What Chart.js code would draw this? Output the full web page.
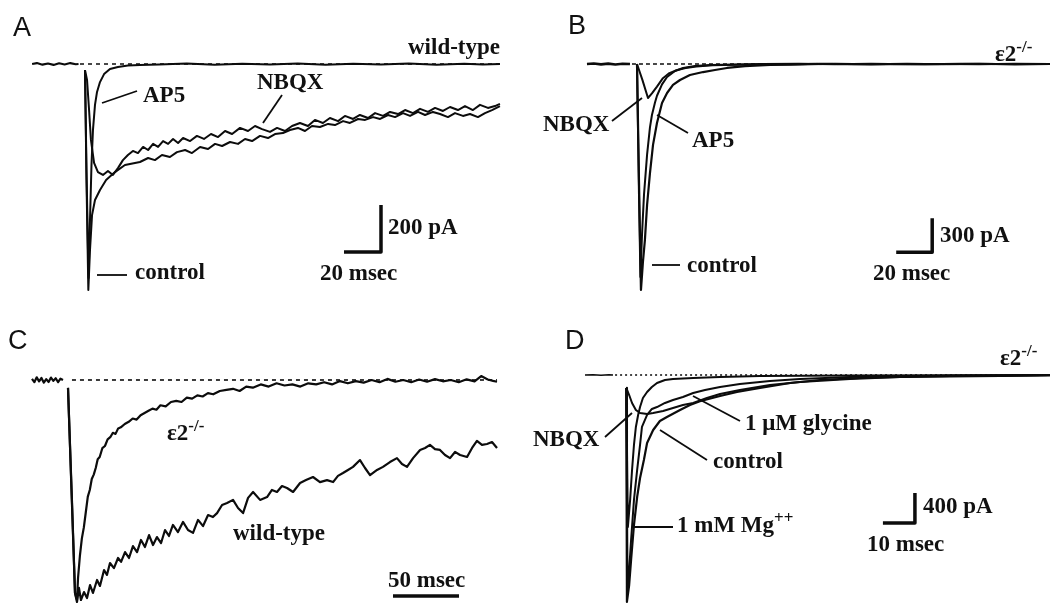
<!DOCTYPE html>
<html>
<head>
<meta charset="utf-8">
<script src="https://cdn.jsdelivr.net/npm/chart.js@4"></script>
<style>
  body { margin: 0; background: #fff; }
  #fig { position: relative; width: 1050px; height: 604px; background: #fff; overflow: hidden; }
  #fig canvas { position: absolute; }
  .lbl { position: absolute; white-space: nowrap; color: #111; font: bold 23px "Liberation Serif", "Times New Roman", serif; line-height: 23px; }
  .lbl.letter { font: 27px "Liberation Sans", Arial, sans-serif; line-height: 27px; }
  .lbl sup { font-size: 17px; vertical-align: 0; position: relative; top: -9px; }
</style>
</head>
<body>
<div id="fig">
  <canvas id="panelA" width="525" height="302" style="left:0;top:0"></canvas>
  <canvas id="panelB" width="525" height="302" style="left:525px;top:0"></canvas>
  <canvas id="panelC" width="525" height="302" style="left:0;top:302px"></canvas>
  <canvas id="panelD" width="525" height="302" style="left:525px;top:302px"></canvas>
</div>
<script>
// ---- data: [time (ms), current] pairs ----

// A: wild-type, current in pA
const aPre = [[-28.6,0],[-26,4],[-23,-3],[-20,2],[-17,-4],[-14,3],[-11,-2],[-8,4],[-5,-1],[-3.5,0]];
const aControl = [[0,-26],[0.8,-494],[1.8,-962],[2.7,-791],[3.8,-643],[5.4,-579],[8.1,-536],[11.4,-494],[16.2,-460],[21.6,-430],
  [29.7,-417],[34.1,-400],[37.8,-409],[41.6,-387],[45.9,-396],[49.7,-375],[54.1,-366],[57.8,-379],[62.2,-353],[66.5,-362],
  [70.3,-340],[74.1,-349],[78.4,-332],[82.7,-340],[86.5,-319],[90.3,-328],[94.6,-306],[98.9,-315],[102.7,-298],[107,-294],
  [110.8,-281],[115.1,-272],[118.9,-285],[122.7,-264],[127,-268],[131.4,-255],[135.1,-260],[139.5,-243],[143.2,-251],[147.6,-234],
  [151.4,-238],[155.7,-226],[159.5,-234],[163.8,-217],[167.6,-226],[171.9,-209],[175.7,-221],[180,-204],[183.8,-217],[188.1,-204],
  [191.9,-213],[196.2,-226],[200,-209],[204.3,-221],[208.1,-213],[212.4,-226],[216.2,-209],[220,-196],[224.3,-179]];
const aNbqx = [[0,-26],[1.1,-68],[2.2,-196],[3.2,-323],[4.9,-421],[7,-460],[9.7,-472],[12.4,-455],[15.1,-472],[17.8,-443],
  [20.5,-409],[23.2,-387],[25.9,-370],[28.6,-379],[31.4,-353],[34.1,-366],[36.8,-340],[39.5,-353],[42.2,-328],[44.9,-340],
  [47.6,-319],[50.3,-336],[53,-315],[56.8,-328],[60.5,-306],[64.3,-319],[68.1,-298],[71.9,-311],[75.7,-285],[79.5,-298],
  [83.8,-272],[88.1,-285],[91.9,-264],[95.7,-277],[100,-289],[103.8,-272],[108.1,-285],[111.9,-264],[116.2,-251],[120.5,-264],
  [124.3,-238],[128.6,-251],[132.4,-230],[136.8,-243],[140.5,-221],[144.9,-234],[148.6,-217],[153,-230],[156.8,-209],[161.1,-221],
  [164.9,-204],[169.2,-213],[173,-196],[177.3,-209],[181.1,-191],[185.4,-204],[189.2,-187],[193.5,-200],[197.3,-183],[201.6,-196],
  [205.4,-179],[209.7,-196],[213.5,-174],[217.8,-187],[221.6,-179],[224.3,-170]];
const aAp5 = [[0,-26],[0.8,-451],[1.9,-911],[2.7,-664],[3.5,-430],[4.3,-281],[5.4,-174],[6.5,-119],[8.1,-77],[10.3,-43],
  [13.5,-21],[17.8,-13],[23.2,-6],[29.7,-4],[40,-2],[55,2],[70,-3],[85,1],[100,-2],[115,2],[130,-3],[145,1],[160,-2],
  [175,2],[190,-3],[205,1],[215,-2],[224.3,0]];
const aBaseline = [[-2.7,0],[224.3,0]];
const aScaleBar = [[140,-800],[160,-800],[160,-600]]; // 20 ms, 200 pA

// B: epsilon2 -/-, current in pA
const bPre = [[-27.8,0],[-24,4],[-20,-3],[-16,3],[-12,-4],[-8,2],[-3.9,0]];
const bControl = [[0,0],[1.1,-1023],[2.2,-1993],[3.3,-1746],[4.4,-1552],[5.6,-1244],[7.2,-962],[8.9,-714],[11.1,-520],[13.9,-344],
  [16.7,-256],[20,-185],[23.9,-141],[29.4,-97],[36.7,-71],[43.3,-53],[50,-35],[60,-18],[73.9,-9],[90,-4],[110,2],[130,-3],
  [150,1],[170,-2],[190,2],[210,-3],[229.4,0]];
const bAp5 = [[0,0],[1.1,-1150],[1.9,-1880],[2.8,-1500],[3.9,-1150],[5.6,-800],[7.2,-560],[8.3,-450],[10,-340],[11.1,-280],
  [13.9,-180],[16.7,-115],[21.1,-62],[25.6,-35],[32.2,-18],[40.6,-9],[56,-4],[70,0],[90,2],[110,-2],[130,3],[150,-2],
  [170,1],[190,-3],[210,2],[229.4,-1]];
const bNbqx = [[0,0],[3,-140],[6.1,-300],[8.3,-260],[11.1,-200],[14.4,-125],[18,-80],[22,-55],[27,-35],[33,-22],[42,-12],
  [55,-6],[70,-2],[85,-4],[100,2],[120,-2],[140,1],[160,-3],[180,2],[200,-1],[229.4,0]];
const bBaseline = [[-2.8,0],[229.4,0]];
const bScaleBar = [[144,-1660],[164,-1660],[164,-1360]]; // 20 ms, 300 pA

// C: wild-type vs epsilon2 -/-, peak-normalised current
const cPre = [[-27.3,0.005],[-25.5,-0.01],[-23.7,0.012],[-21.9,-0.006],[-20.1,0.009],[-18.3,-0.012],[-16.5,0.004],
  [-14.7,-0.009],[-12.9,0.011],[-11.1,-0.004],[-9.3,0.008],[-7.5,-0.01],[-5.7,0.006],[-3.8,0]];
const cKnockout = [[0,-0.036],[3,-0.55],[5.3,-0.968],[6.8,-1],[7.6,-0.9],[9,-0.8],[10.5,-0.72],[12,-0.67],[13.5,-0.6],
  [15,-0.53],[16.5,-0.5],[18,-0.45],[19.5,-0.43],[21,-0.4],[22.5,-0.36],[24,-0.35],[26,-0.31],[28,-0.3],[30,-0.27],
  [32,-0.26],[34,-0.24],[36,-0.245],[38,-0.22],[40,-0.215],[43,-0.2],[46,-0.19],[49,-0.175],[52,-0.18],[55,-0.16],
  [58,-0.15],[61,-0.14],[64,-0.13],[67,-0.135],[70,-0.115],[74,-0.12],[78,-0.1],[82,-0.095],[86,-0.1],[90,-0.08],
  [94,-0.085],[98,-0.07],[102,-0.075],[106,-0.06],[110,-0.065],[115,-0.05],[120,-0.045],[125,-0.04],[130,-0.05],
  [135,-0.03],[140,-0.035],[146,-0.02],[152,-0.03],[158,-0.015],[164,-0.025],[170,-0.02],[176,-0.03],[182,-0.015],
  [188,-0.02],[194,-0.01],[200,-0.02],[206,-0.005],[212,-0.015],[218,-0.005],[224,-0.012],[230,0],[236,-0.01],
  [242,0.005],[248,-0.008],[254,0],[260,-0.01],[266,0.002],[272,-0.008],[278,0.004],[284,-0.006],[290,0],[296,-0.01],
  [302,0.003],[308,-0.006],[313,0.018],[318,0.002],[322,-0.004],[325,-0.008]];
const cWildType = [[0,-0.036],[5.3,-0.968],[6.8,-1.009],[8.3,-0.945],[9.8,-1],[12.1,-0.964],[14.4,-0.991],[16.7,-0.932],
  [18.9,-0.968],[22,-0.909],[24.2,-0.936],[27.3,-0.864],[29.5,-0.886],[31.8,-0.832],[34.8,-0.855],[37.9,-0.809],
  [40.2,-0.827],[43.2,-0.782],[46.2,-0.809],[49.2,-0.755],[52.3,-0.782],[55.3,-0.727],[58.3,-0.759],[61.4,-0.705],
  [64.4,-0.75],[67.4,-0.714],[70.5,-0.741],[73.5,-0.682],[76.5,-0.709],[79.5,-0.659],[83.3,-0.691],[87.1,-0.645],
  [90.9,-0.682],[94.7,-0.695],[98.5,-0.636],[102.3,-0.664],[106.1,-0.614],[109.8,-0.623],[112.9,-0.605],[116.7,-0.568],
  [120.5,-0.559],[125,-0.545],[128.8,-0.582],[132.6,-0.605],[136.4,-0.536],[140.2,-0.509],[145.5,-0.545],[150.8,-0.532],
  [154.5,-0.5],[158.3,-0.509],[162.1,-0.482],[165.9,-0.491],[170.5,-0.509],[175.8,-0.468],[180.3,-0.455],[185.6,-0.441],
  [190.9,-0.464],[196.2,-0.455],[200.8,-0.464],[204.5,-0.436],[208.3,-0.423],[212.1,-0.409],[215.9,-0.395],[221.2,-0.364],
  [225,-0.4],[228.8,-0.432],[234.1,-0.409],[238.6,-0.395],[243.9,-0.373],[249.2,-0.355],[253,-0.382],[256.8,-0.395],
  [261.4,-0.355],[266.7,-0.318],[270.5,-0.309],[274.2,-0.295],[278,-0.314],[281.8,-0.318],[285.6,-0.341],[289.4,-0.355],
  [293.2,-0.327],[297,-0.341],[302.3,-0.35],[306.1,-0.309],[309.8,-0.277],[313.6,-0.295],[317.4,-0.291],[321.2,-0.282],
  [325,-0.309]];
const cBaseline = [[3,0],[325,0]];
const cScaleBar = [[246.2,-0.982],[296.2,-0.982]]; // 50 ms

// D: epsilon2 -/-, current in pA
const dPre = [[-12.5,0],[-10,3],[-7.5,-2],[-5,2],[-3.75,0]];
const dControl = [[0.4,-173],[0.6,-3026],[1.3,-2800],[1.9,-2466],[2.8,-2000],[3.8,-1626],[4.7,-1373],[5.9,-1133],
  [6.9,-907],[8.8,-733],[10.9,-613],[13.1,-560],[17.2,-467],[20.3,-400],[23.4,-350],[29.7,-280],[35,-227],[42.2,-173],
  [51.6,-107],[60.9,-67],[73.4,-40],[85.9,-27],[101.6,-13],[117.2,-7],[132.8,0]];
const dGlycine = [[0.4,-173],[0.8,-2866],[1.3,-2600],[1.9,-2200],[2.8,-1666],[3.8,-1266],[4.7,-933],[5.3,-693],[6.9,-533],
  [8.4,-453],[10,-427],[12.5,-373],[15,-333],[18.1,-293],[21.3,-240],[25,-200],[29.7,-160],[35.9,-120],[45.3,-80],
  [54.7,-53],[70.3,-27],[85.9,-13],[117.2,-7],[132.8,0]];
const dMagnesium = [[0.4,-173],[0.9,-2026],[1.6,-1666],[2.2,-1266],[2.8,-933],[3.4,-693],[4.1,-533],[4.7,-427],[5.6,-307],
  [6.9,-227],[8.4,-160],[10,-107],[12.5,-67],[15,-53],[21.3,-40],[29.7,-27],[42.2,-13],[70.3,-7],[132.8,0]];
const dNbqx = [[0.4,-173],[1.3,-267],[2.2,-373],[3.4,-467],[4.7,-507],[6.9,-520],[8.8,-507],[11.9,-480],[15,-440],
  [18.1,-400],[21.3,-373],[25.6,-307],[29.7,-253],[35.9,-200],[45.3,-133],[54.7,-93],[70.3,-53],[85.9,-27],[117.2,-13],
  [132.8,-7]];
const dBaseline = [[-3.1,0],[132.8,0]];
const dScaleBar = [[80.6,-1973],[90.6,-1973],[90.6,-1573]]; // 10 ms, 400 pA

// ---- labels and leader lines (page pixels) ----
const labels = [
  { html: 'A', x: 13, y: 37, letter: true },
  { html: 'wild-type', x: 408, y: 54 },
  { html: 'AP5', x: 143, y: 102 },
  { html: 'NBQX', x: 257, y: 89 },
  { html: 'control', x: 135, y: 279 },
  { html: '200 pA', x: 388, y: 234 },
  { html: '20 msec', x: 320, y: 280 },
  { html: 'B', x: 568, y: 35, letter: true },
  { html: 'ε2<sup>-/-</sup>', x: 995, y: 61 },
  { html: 'NBQX', x: 543, y: 131 },
  { html: 'AP5', x: 692, y: 147 },
  { html: 'control', x: 687, y: 272 },
  { html: '300 pA', x: 940, y: 242 },
  { html: '20 msec', x: 873, y: 280 },
  { html: 'C', x: 8, y: 350, letter: true },
  { html: 'ε2<sup>-/-</sup>', x: 167, y: 440 },
  { html: 'wild-type', x: 233, y: 540 },
  { html: '50 msec', x: 388, y: 587 },
  { html: 'D', x: 565, y: 350, letter: true },
  { html: 'ε2<sup>-/-</sup>', x: 1000, y: 365 },
  { html: 'NBQX', x: 533, y: 446 },
  { html: '1 μM glycine', x: 745, y: 430 },
  { html: 'control', x: 713, y: 468 },
  { html: '1 mM Mg<sup>++</sup>', x: 677, y: 532 },
  { html: '400 pA', x: 923, y: 513 },
  { html: '10 msec', x: 867, y: 551 }
];

const leadersA = [[102,103,137,91],[263,123,282,95],[97,275,127,275]];
const leadersB = [[612,121,642,98],[657,115,688,133],[652,265,680,265]];
const leadersD = [[605,437,632,413],[693,396,740,421],[660,430,707,460],[632,527,673,527]];

const fig = document.getElementById('fig');
labels.forEach(l => {
  const div = document.createElement('div');
  div.className = 'lbl' + (l.letter ? ' letter' : '');
  div.innerHTML = l.html;
  div.style.left = l.x + 'px';
  div.style.top = (l.y - (l.letter ? 22.9 : 19.3)) + 'px';
  fig.appendChild(div);
});

const ink = '#0c0c0c';

function trace(points, width, dash) {
  return {
    data: points.map(p => ({ x: p[0], y: p[1] })),
    borderColor: ink,
    borderWidth: width || 2,
    borderDash: dash || [],
    borderJoinStyle: 'round',
    pointRadius: 0,
    tension: 0,
    fill: false,
    clip: false
  };
}

function leaderPlugin(lines, offX, offY) {
  return {
    id: 'leaders',
    afterDatasetsDraw(chart) {
      const ctx = chart.ctx;
      ctx.save();
      ctx.strokeStyle = ink;
      ctx.lineWidth = 1.8;
      lines.forEach(l => {
        ctx.beginPath();
        ctx.moveTo(l[0] - offX, l[1] - offY);
        ctx.lineTo(l[2] - offX, l[3] - offY);
        ctx.stroke();
      });
      ctx.restore();
    }
  };
}

function makePanel(id, datasets, xr, yr, lines, offX, offY) {
  new Chart(document.getElementById(id), {
    type: 'line',
    data: { datasets: datasets },
    options: {
      responsive: false,
      animation: false,
      events: [],
      layout: { padding: 0 },
      plugins: { legend: { display: false }, tooltip: { enabled: false } },
      scales: {
        x: { type: 'linear', min: xr[0], max: xr[1], display: false },
        y: { type: 'linear', min: yr[0], max: yr[1], display: false }
      }
    },
    plugins: [leaderPlugin(lines, offX, offY)]
  });
}

makePanel('panelA', [
  trace(aBaseline, 1.6, [4, 4]),
  trace(aPre, 2.2), trace(aAp5), trace(aNbqx), trace(aControl),
  trace(aScaleBar, 3.5)
], [-45.95, 237.84], [-1012.8, 272.3], leadersA, 0, 0);

makePanel('panelB', [
  trace(bBaseline, 1.6, [4, 3]),
  trace(bPre, 2.6), trace(bNbqx), trace(bAp5), trace(bControl, 2.2),
  trace(bScaleBar, 3.5)
], [-62.22, 229.44], [-2100, 564.7], leadersB, 525, 0);

makePanel('panelC', [
  trace(cBaseline, 1.6, [4, 4]),
  trace(cPre, 2.2), trace(cKnockout, 2.2), trace(cWildType, 2.2),
  trace(cScaleBar, 3.5)
], [-51.52, 346.2], [-1.0182, 0.3545], [], 0, 302);

makePanel('panelD', [
  trace(dBaseline, 1.6, [2, 3]),
  trace(dPre, 1.5), trace(dMagnesium), trace(dNbqx), trace(dGlycine), trace(dControl, 2.2),
  trace(dScaleBar, 3.5)
], [-31.25, 132.81], [-3053.3, 973.3], leadersD, 525, 302);
</script>
</body>
</html>
